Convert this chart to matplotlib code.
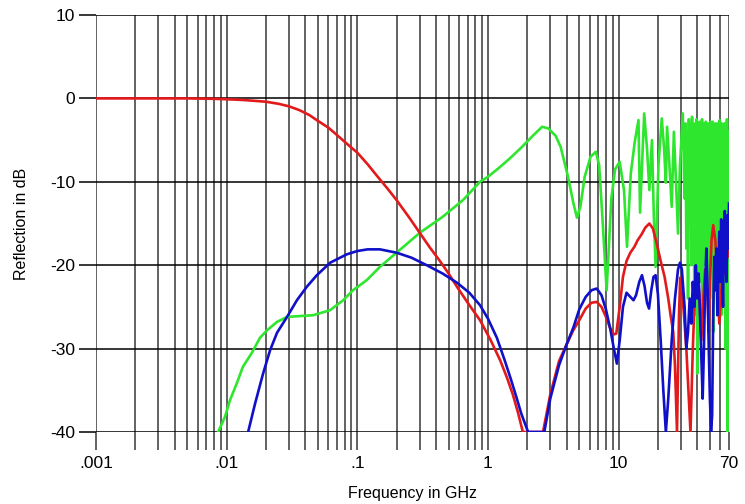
import matplotlib
matplotlib.use('Agg')
import matplotlib.pyplot as plt
from matplotlib.ticker import FixedLocator, FixedFormatter, NullFormatter

# Red trace (GHz, dB)
red_f = [0.001, 0.005, 0.008, 0.01, 0.013, 0.016, 0.02, 0.025, 0.03, 0.036, 0.043, 0.05, 0.06, 0.07,
         0.08, 0.09, 0.1, 0.12, 0.14, 0.17, 0.2, 0.25, 0.3, 0.36, 0.42, 0.5, 0.58, 0.7, 0.87, 1.05,
         1.24, 1.4, 1.55, 1.7, 1.85,
         2.64, 3.0, 3.5, 4.0, 4.5, 5.0, 5.6, 6.2, 6.8, 7.4, 8.0, 8.6, 9.2, 9.6, 10.2, 10.8, 11.5, 12.3,
         13.2, 14.0, 15.0, 16.0, 17.2, 18.3, 19.5, 21.0, 22.5, 24.0, 25.0, 26.2, 27.0, 28.0, 29.0, 29.6,
         31.0, 33.0, 35.5, 37.0, 38.5, 40.0, 41.5, 43.0, 44.5, 46.0, 48.0, 49.0, 50.0, 51.5, 53.0, 55.0,
         57.0, 59.0, 61.0, 63.0, 65.0, 67.0, 68.5, 70.0]
red_db = [0.0, 0.0, -0.05, -0.1, -0.18, -0.28, -0.4, -0.65, -0.95, -1.4, -2.0, -2.7, -3.5, -4.4,
          -5.2, -5.9, -6.5, -7.9, -9.2, -10.8, -12.2, -14.3, -16.1, -17.9, -19.3, -21.0, -22.6, -24.5,
          -26.6, -29.0,
          -31.4, -33.5, -35.5, -37.7, -40.0,
          -40.0, -35.5, -31.5, -29.5, -27.8, -26.6, -25.2, -24.5, -24.4, -25.0, -26.2, -27.5, -28.3, -28.2,
          -25.0, -21.4, -19.5, -18.5,
          -17.8, -17.0, -16.3, -15.5, -15.0, -15.6, -17.3, -19.5, -21.4, -24.0, -26.0, -28.0, -32.0, -40.0,
          -26.0, -21.5,
          -24.0, -30.0, -40.0, -30.0, -22.5, -21.0, -23.5, -29.0, -24.0, -20.5, -23.5, -28.0, -22.0, -17.0,
          -15.2, -17.0,
          -21.5, -27.0, -23.5, -18.5, -21.0, -17.0, -15.4, -19.0]

# Blue trace
blue_f = [0.0146, 0.0165, 0.019, 0.0215, 0.0243, 0.029, 0.0345, 0.041, 0.049, 0.062, 0.083, 0.1, 0.12,
          0.149, 0.2, 0.26, 0.34, 0.45, 0.58, 0.72, 0.87, 1.0, 1.17, 1.35, 1.5, 1.65, 1.8, 2.03,
          2.7, 3.0, 3.5, 4.0, 4.5, 5.0, 5.6, 6.2, 6.8, 7.4, 8.0, 8.6, 9.2, 9.7, 10.2, 10.8, 11.5, 12.3,
          13.0, 13.6, 14.4, 15.1, 15.8, 16.5, 17.1, 17.8, 18.5, 19.2, 20.0, 21.0, 22.0, 23.0, 24.0, 25.5,
          27.0, 28.5, 29.5, 30.5, 32.0, 33.0, 34.0, 35.0, 36.0, 37.0, 38.0, 39.0, 40.0, 41.0, 42.0, 43.0,
          44.0, 45.0, 46.0, 47.0, 48.0, 49.0, 50.0, 51.0, 52.0, 53.0, 54.0, 55.0, 56.0, 57.0, 58.0, 59.0,
          60.0, 61.0, 62.0, 63.0, 64.0, 65.0, 66.0, 67.0, 68.0, 69.0, 70.0]
blue_db = [-40.0, -36.6, -33.0, -30.2, -28.1, -26.2, -24.2, -22.6, -21.2, -19.7, -18.7, -18.3, -18.1,
           -18.1, -18.5, -19.1, -20.0, -21.0, -22.1, -23.3, -24.8, -26.4, -28.7, -31.5, -33.7, -35.8,
           -37.8, -40.0,
           -40.0, -36.0, -32.0, -29.5, -27.5, -25.3, -23.8, -23.0, -22.8, -23.6, -25.3, -27.5, -30.0, -31.8,
           -29.0, -25.0, -23.3, -23.8,
           -24.2, -23.6, -22.0, -21.2, -22.5, -24.5, -25.2, -23.0, -21.4, -21.2, -23.5, -29.0, -35.0, -40.0,
           -36.0, -29.0,
           -24.0, -20.5, -19.7, -20.5, -25.0, -30.0, -28.0, -24.0, -27.0, -22.0, -25.0, -20.0, -24.0, -21.0,
           -26.0, -31.0,
           -36.0, -30.0, -22.0, -18.0, -23.0, -30.0, -36.0, -40.0, -38.0, -26.0, -19.0, -23.0, -18.0, -26.0,
           -21.0, -16.0,
           -22.0, -14.5, -20.0, -25.0, -17.0, -13.5, -19.0, -22.0, -14.0, -18.0, -12.6]

# Green trace, smooth part up to 31 GHz
green_f = [0.0086, 0.0097, 0.0106, 0.012, 0.0133, 0.0156, 0.018, 0.0204, 0.0243, 0.029, 0.0458, 0.0618,
           0.078, 0.0927, 0.118, 0.149, 0.21, 0.302, 0.45, 0.644, 0.87, 1.0, 1.2, 1.47, 1.8, 2.2, 2.6,
           2.9, 3.3, 3.6, 4.1, 4.5, 4.8, 5.1, 5.5, 6.1, 6.7, 7.1, 7.5,
           8.1, 8.8, 9.4, 10.2, 11.0, 11.6, 12.4, 13.3, 14.2, 14.6, 15.7, 16.5, 17.2, 18.0,
           18.6, 19.2, 20.2, 21.4, 22.3, 23.0, 23.5, 24.5, 25.5, 26.5, 27.5, 28.5, 29.5, 31.0]
green_db = [-40.0, -38.2, -36.2, -34.1, -32.2, -30.5, -28.7, -27.8, -26.8, -26.2, -26.0, -25.4,
            -24.2, -23.0, -21.8, -20.2, -18.2, -16.1, -14.2, -12.2, -10.0, -9.4, -8.4, -7.2, -5.9, -4.5, -3.4,
            -3.6, -4.5, -5.8, -9.4, -12.5, -14.3, -13.0, -9.4, -7.0, -6.4, -8.0, -14.0,
            -23.0, -12.0, -8.5, -7.6, -11.0, -17.8, -9.0, -5.2, -2.6, -13.7, -1.8, -6.0, -11.0, -5.0,
            -14.0, -20.2, -8.0, -2.4, -6.0, -10.1, -3.4, -8.0, -13.0, -4.0, -10.0, -16.2, -8.0, -1.8]

# Green trace, dense ripple 32..70 GHz
green_hf_f = [32.0, 32.5, 33.0, 33.5, 34.0, 34.5, 35.0, 35.5, 36.0, 36.5,
              37.0, 37.5, 38.0, 38.5, 39.0, 39.5, 40.0, 40.5, 41.0, 41.5,
              42.0, 42.5, 43.0, 43.5, 44.0, 44.5, 45.0, 45.5, 46.0, 46.5,
              47.0, 47.5, 48.0, 48.5, 49.0, 49.5, 50.0, 50.5, 51.0, 51.5,
              52.0, 52.5, 53.0, 53.5, 54.0, 54.5, 55.0, 55.5, 56.0, 56.5,
              57.0, 57.5, 58.0, 58.5, 59.0, 59.5, 60.0, 60.5, 61.0, 61.5,
              62.0, 62.5, 63.0, 63.5, 64.0, 64.5, 65.0, 65.5, 66.0, 66.5,
              67.0, 67.5, 68.0, 68.5, 69.0, 69.5, 70.0]
green_hf_db = [-12.0, -3.0, -18.0, -4.0, -24.0, -2.5, -14.0, -3.0, -20.0, -2.2,
               -16.0, -4.0, -26.0, -3.0, -12.0, -2.5, -33.0, -3.5, -18.0, -2.8,
               -22.0, -4.0, -15.0, -2.5, -26.0, -3.5, -14.0, -3.0, -20.0, -2.8,
               -12.0, -4.0, -22.0, -3.0, -16.0, -3.2, -24.0, -2.8, -14.0, -3.5,
               -18.0, -2.8, -28.0, -3.0, -16.0, -3.5, -20.0, -3.0, -13.0, -4.0,
               -24.0, -3.0, -18.0, -3.5, -22.0, -2.6, -14.0, -4.0, -26.0, -3.0,
               -16.0, -3.2, -21.0, -4.5, -25.0, -3.0, -18.0, -5.0, -30.0, -3.5,
               -20.0, -2.5, -40.0, -5.0, -16.0, -6.0, -4.0]

x_major = [0.001, 0.01, 0.1, 1, 10, 70]
x_major_labels = ['.001', '.01', '.1', '1', '10', '70']
y_ticks = [-40, -30, -20, -10, 0, 10]

plt.rcParams['font.family'] = ['Liberation Sans', 'DejaVu Sans']

fig = plt.figure(figsize=(7.45, 5.04), dpi=100)
ax = fig.add_axes([96 / 745, 72 / 504, 633 / 745, 417 / 504])

ax.plot(green_f + green_hf_f, green_db + green_hf_db, color='#2ee62e', lw=1.9, zorder=3)
ax.plot(red_f, red_db, color='#e31a1c', lw=1.9, zorder=4)
ax.plot(blue_f, blue_db, color='#1010c8', lw=1.9, zorder=4)

ax.set_xscale('log')
ax.set_xlim(0.001, 70)
ax.set_ylim(-40, 10)

minor = [m * 10.0 ** e for e in range(-3, 1) for m in range(2, 10)] + [20, 30, 40, 50, 60]
ax.xaxis.set_major_locator(FixedLocator(x_major))
ax.xaxis.set_major_formatter(FixedFormatter(x_major_labels))
ax.xaxis.set_minor_locator(FixedLocator(minor))
ax.xaxis.set_minor_formatter(NullFormatter())
ax.set_yticks(y_ticks)
ax.set_yticklabels([str(v) for v in y_ticks])

for s in ax.spines.values():
    s.set_visible(False)

ax.grid(True, axis='x', which='both', color='#484848', lw=1.2, zorder=1)
ax.grid(True, axis='y', which='major', color='black', lw=1.1, zorder=1)
ax.set_axisbelow(True)

ax.tick_params(axis='x', which='both', direction='out', length=13, width=1.2, color='#484848',
               labelsize=12.5, pad=4)
ax.tick_params(axis='y', direction='out', length=12, width=1.1, color='black', labelsize=12.5, pad=3)

ax.set_xlabel('Frequency in GHz', fontsize=11.5, labelpad=11)
ax.set_ylabel('Reflection in dB', fontsize=11.5, labelpad=15)

fig.savefig('out.png', dpi=100)
